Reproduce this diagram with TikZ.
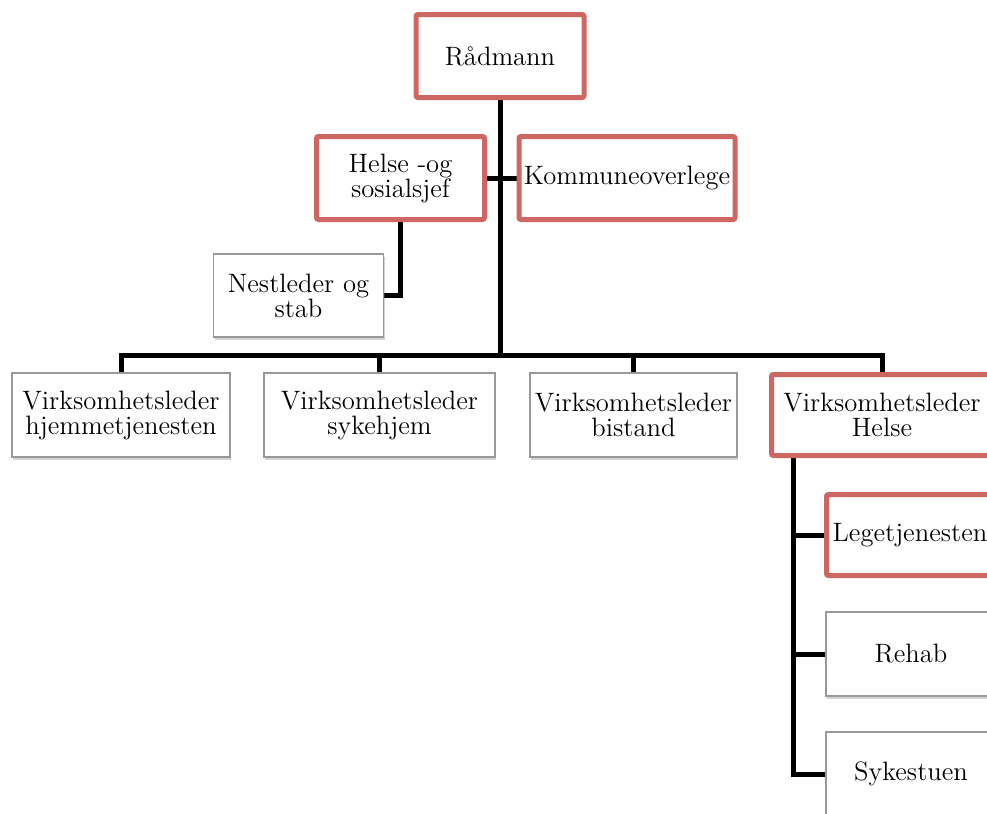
\documentclass[tikz,border=0pt]{standalone}
\usepackage{tikz}
\usetikzlibrary{shadows,backgrounds}
\tikzset{every node/.style={font=\fontsize{13.3}{12.5}\selectfont}}
\definecolor{redcol}{RGB}{206,103,98}
\colorlet{graycol}{black!40!white}
\colorlet{linkcol}{black}
\tikzset{
  box/.style={rectangle, align=center, inner sep=1pt, fill=white},
  redbox/.style={box, draw=redcol, line width=2.5pt, rounded corners=1pt},
  graybox/.style={box, draw=graycol, line width=0.6pt,
    drop shadow={shadow xshift=0.6pt, shadow yshift=-1.4pt, opacity=0.35}},
  link/.style={draw=linkcol, line width=2.5pt}
}

\begin{document}
\begin{tikzpicture}[x=0.5pt, y=-0.5pt]

  % Page frame.
  \useasboundingbox (0,0) rectangle (987,814);
  \clip (0,0) rectangle (987,814);

  % Top level.
  \node[redbox, minimum width=84pt, minimum height=41.5pt] (radmann) at (500,56) {Rådmann};
  \node[redbox, minimum width=84pt, minimum height=41.5pt] (helse) at (400.5,178) {Helse -og\\sosialsjef};
  \node[redbox, minimum width=108pt, minimum height=41.5pt] (kommune) at (627,178) {Kommuneoverlege};
  \node[graybox, minimum width=85pt, minimum height=41.5pt] (nestleder) at (298.5,295.5) {Nestleder og\\stab};

  % Virksomhetsledere.
  \node[graybox, minimum width=109pt, minimum height=42pt] (vlhjem) at (121,415) {Virksomhetsleder\\hjemmetjenesten};
  \node[graybox, minimum width=115.5pt, minimum height=42pt] (vlsyke) at (379.5,415) {Virksomhetsleder\\sykehjem};
  \node[graybox, minimum width=103.5pt, minimum height=42pt] (vlbist) at (633.5,415) {Virksomhetsleder\\bistand};
  \node[redbox, minimum width=110.5pt, minimum height=40.5pt] (vlhelse) at (882,415) {Virksomhetsleder\\Helse};

  % Under Helse.
  \node[redbox, minimum width=83.5pt, minimum height=40.5pt] (lege) at (910,535) {Legetjenesten};
  \node[graybox, minimum width=85pt, minimum height=42pt] (rehab) at (911,654) {Rehab};
  \node[graybox, minimum width=85pt, minimum height=42pt] (sykestue) at (911,774) {Sykestuen};

  % Connectors.
  \coordinate (bar) at (500,355);
  \coordinate (stem) at (793,458);
  \begin{scope}[on background layer]
    \draw[link] (radmann.south) -- (bar);
    \draw[link] (vlhjem.north) |- (bar) -| (vlhelse.north);
    \draw[link] (vlsyke.north) -- (vlsyke.north |- bar);
    \draw[link] (vlbist.north) -- (vlbist.north |- bar);
    \draw[link] (helse.east) -- (kommune.west);
    \draw[link] (helse.south) |- (nestleder.east);
    \draw[link] (stem) |- (sykestue.west);
    \draw[link] (stem |- lege.west) -- (lege.west);
    \draw[link] (stem |- rehab.west) -- (rehab.west);
  \end{scope}

\end{tikzpicture}
\end{document}
